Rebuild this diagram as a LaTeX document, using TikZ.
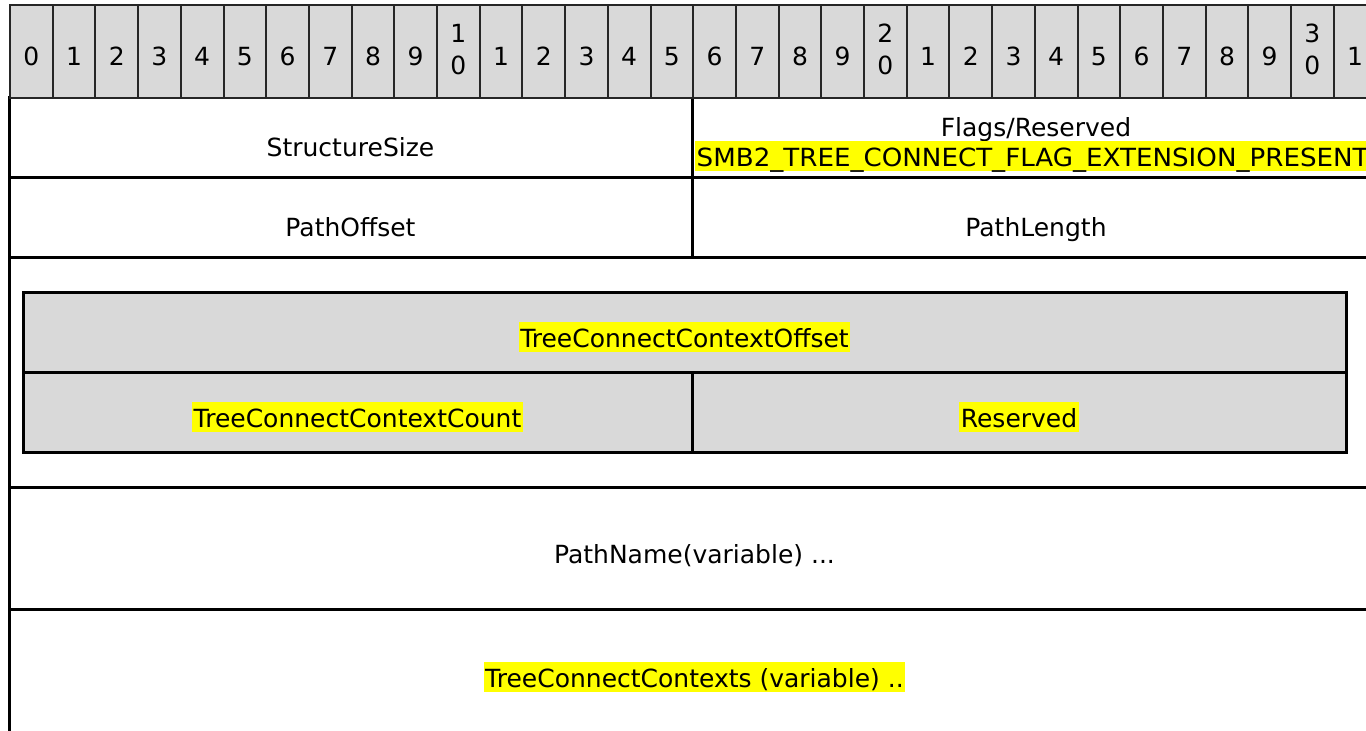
\documentclass[tikz,border=0pt]{standalone}
\usepackage{fontspec}
\setmainfont{DejaVu Sans}
\usetikzlibrary{fit,calc}
\definecolor{cellgray}{HTML}{D9D9D9}
\definecolor{hilitecolor}{HTML}{FFFF00}
\begin{document}
\begin{tikzpicture}[x=1pt,y=-1pt,
  font=\fontsize{25}{32}\selectfont,
  hcell/.style={draw=black!85, line width=2pt, fill=cellgray,
    minimum width=42.7pt, minimum height=93pt, inner sep=0pt, anchor=north west},
  field/.style={draw=black, line width=3pt, inner sep=0pt},
  subfield/.style={field, fill=cellgray},
  lbl/.style={inner sep=0pt, anchor=base, text=black},
  hilite/.style={lbl, fill=hilitecolor, inner xsep=1.5pt, inner ysep=0pt,
    text height=25pt, text depth=5pt},
]
\useasboundingbox (0,0) rectangle (1366,731);
\fill[white] (0,0) rectangle (1366,731);
\clip (0,0) rectangle (1366,731);

% --- message fields ---
\node[field, fit={(9,97) (692,177)}]    (ss)  {};
\node[field, fit={(692,97) (1380,177)}] (fl)  {};
\node[field, fit={(9,177) (692,257)}]   (po)  {};
\node[field, fit={(692,177) (1380,257)}](pl)  {};
\node[field, fit={(9,257) (1380,487)}]  (ext) {};
\node[subfield, fit={(23,292) (1346,372)}]  (tco) {};
\node[subfield, fit={(23,372) (692,452)}]   (tcc) {};
\node[subfield, fit={(692,372) (1346,452)}] (rsv) {};
\node[field, fit={(9,487) (1380,609)}]  (pn)  {};
\node[field, fit={(9,609) (1380,780)}]  (tcs) {};

% --- bit ruler ---
\foreach \i in {0,...,31}{
  \node[hcell] (h\i) at ({9+\i*42.7},4) {};
}
\foreach \i in {0,...,31}{
  \pgfmathtruncatemacro\units{mod(\i,10)}
  \pgfmathtruncatemacro\tens{\i/10}
  \ifnum\i>0
    \ifnum\units=0
      \node[lbl, align=center, anchor=north] (d\i) at (h\i.center |- 0,23.8) {\tens\\0};
    \else
      \node[lbl] (d\i) at (h\i.center |- 0,65) {\units};
    \fi
  \else
    \node[lbl] (d\i) at (h\i.center |- 0,65) {\units};
  \fi
}

% --- field names ---
\node[lbl] (ssT) at (ss.center |- 0,156) {StructureSize};
\node[lbl] (flT) at (fl.center |- 0,136) {Flags/Reserved};
\node[hilite, anchor=base west] (flX) at (695,166)
  {\addfontfeature{FakeStretch=1.045}SMB2\_TREE\_CONNECT\_FLAG\_EXTENSION\_PRESENT};
\node[lbl] (poT) at (po.center |- 0,236) {PathOffset};
\node[lbl] (plT) at (pl.center |- 0,236) {PathLength};
\node[hilite] (tcoT) at (tco.center |- 0,347) {TreeConnectContextOffset};
\node[hilite] (tccT) at (tcc.center |- 0,427) {TreeConnectContextCount};
\node[hilite] (rsvT) at (rsv.center |- 0,427) {Reserved};
\node[lbl] (pnT) at (pn.center |- 0,563) {PathName(variable) ...};
\node[hilite] (tcsT) at (tcs.center |- 0,687) {TreeConnectContexts (variable) ..};
\end{tikzpicture}
\end{document}
